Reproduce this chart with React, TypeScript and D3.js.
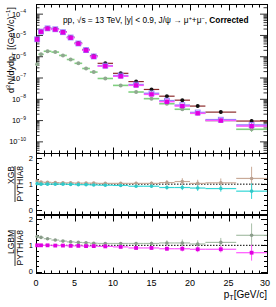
import React from "react";
import * as d3 from "d3";

const ptCenters = [0.15, 0.65, 1.5, 2.5, 3.5, 4.5, 5.5, 6.5, 7.5, 9, 11, 13, 15, 17, 19, 21, 24, 28];
const ptLow = [0, 0.3, 1, 2, 3, 4, 5, 6, 7, 8, 10, 12, 14, 16, 18, 20, 22, 26];
const ptHigh = [0.3, 1, 2, 3, 4, 5, 6, 7, 8, 10, 12, 14, 16, 18, 20, 22, 26, 30];

const pythiaYield = [6.8e-6, 1.55e-5, 2.2e-5, 2.0e-5, 1.5e-5, 8.3e-6, 4.4e-6, 2.2e-6, 1.1e-6, 4.9e-7, 1.66e-7, 6.8e-8, 2.9e-8, 1.4e-8, 9.1e-9, 4.8e-9, 2.5e-9, 9.5e-10];
const xgbYield = [6.6e-6, 1.52e-5, 2.15e-5, 1.95e-5, 1.42e-5, 8.0e-6, 4.2e-6, 2.05e-6, 1.03e-6, 3.8e-7, 1.3e-7, 4.9e-8, 1.9e-8, 8.6e-9, 5.3e-9, 2.4e-9, 1.1e-9, 6.2e-10];
const lgbmYield = [6.5e-6, 1.5e-5, 2.1e-5, 1.9e-5, 1.4e-5, 7.8e-6, 4.1e-6, 2.0e-6, 1.0e-6, 3.6e-7, 1.2e-7, 4.5e-8, 1.7e-8, 7.7e-9, 4.8e-9, 2.2e-9, 1.0e-9, 5.5e-10];
const greenYield = [4.4e-7, 1.3e-6, 1.8e-6, 1.65e-6, 1.15e-6, 7.4e-7, 4.9e-7, 2.8e-7, 1.9e-7, 9.5e-8, 4.5e-8, 2.2e-8, 1.07e-8, 6.2e-9, 3.4e-9, 2.2e-9, 1.0e-9, 3.9e-10];
const yieldRelErr = [0.04, 0.03, 0.03, 0.03, 0.03, 0.03, 0.04, 0.04, 0.05, 0.05, 0.07, 0.08, 0.1, 0.12, 0.14, 0.16, 0.18, 0.25];

const xgbRatioA = [1.12, 1.08, 1.07, 1.06, 1.05, 1.05, 1.04, 1.04, 1.04, 1.03, 1.03, 1.03, 1.03, 1.06, 1.1, 1.03, 1.05, 1.22];
const xgbRatioAErr = [0.04, 0.03, 0.03, 0.03, 0.03, 0.03, 0.03, 0.03, 0.04, 0.04, 0.05, 0.06, 0.07, 0.1, 0.13, 0.14, 0.17, 0.45];
const xgbRatioB = [1.02, 1.0, 1.0, 1.0, 1.0, 0.99, 0.98, 0.98, 0.97, 0.96, 0.95, 0.92, 0.92, 0.87, 0.87, 0.85, 0.83, 0.73];
const xgbRatioBErr = [0.03, 0.02, 0.02, 0.02, 0.02, 0.02, 0.02, 0.03, 0.03, 0.03, 0.04, 0.05, 0.06, 0.08, 0.1, 0.11, 0.12, 0.3];

const lgbmRatioA = [1.33, 1.3, 1.25, 1.2, 1.16, 1.13, 1.11, 1.1, 1.08, 1.07, 1.07, 1.07, 1.07, 1.09, 1.09, 1.05, 1.11, 1.38];
const lgbmRatioAErr = [0.04, 0.03, 0.03, 0.03, 0.03, 0.03, 0.03, 0.03, 0.04, 0.04, 0.05, 0.06, 0.07, 0.1, 0.13, 0.14, 0.17, 0.45];
const lgbmRatioB = [1.0, 1.0, 1.0, 0.99, 0.99, 0.98, 0.98, 0.97, 0.97, 0.96, 0.94, 0.9, 0.9, 0.87, 0.87, 0.85, 0.85, 0.72];
const lgbmRatioBErr = [0.03, 0.02, 0.02, 0.02, 0.02, 0.02, 0.02, 0.03, 0.03, 0.03, 0.04, 0.05, 0.06, 0.08, 0.1, 0.11, 0.12, 0.3];

const xTickLabels = ["0", "5", "10", "15", "20", "25", "30"];
const decadeExps = [-4, -5, -6, -7, -8, -9, -10];
const ratioTickLabels = ["0", "1", "2"];

const FONT = "'Liberation Sans', Arial, Helvetica, sans-serif";

const X0 = 36, X1 = 267;
const x = d3.scaleLinear().domain([0, 30]).range([X0, X1]);
const TOP = { y0: 4, y1: 153 };
const MID = { y0: 153, y1: 214 };
const BOT = { y0: 215, y1: 273 };
const yTop = d3.scaleLog().domain([3e-11, 3e-4]).range([TOP.y1, TOP.y0]);
const yMid = d3.scaleLinear().domain([-0.15, 2.2]).range([MID.y1, MID.y0]);
const yBot = d3.scaleLinear().domain([-0.05, 2.15]).range([BOT.y1, BOT.y0]);

function XTicks({ y, dir }: { y: number; dir: number }) {
  const ticks = d3.range(0, 31, 1);
  return (
    <g stroke="#000" strokeWidth={1}>
      {ticks.map((t) => {
        const len = t % 5 === 0 ? 6 : 3;
        const xx = Math.round(x(t)) + 0.5;
        return <line key={t} x1={xx} x2={xx} y1={y} y2={y + dir * len} />;
      })}
    </g>
  );
}

function Frame({ y0, y1 }: { y0: number; y1: number }) {
  return <rect x={X0 + 0.5} y={y0 + 0.5} width={X1 - X0} height={y1 - y0} fill="none" stroke="#000" strokeWidth={1} />;
}

function LinYTicks({ scale }: { scale: d3.ScaleLinear<number, number> }) {
  const [lo, hi] = scale.domain();
  const all = d3.range(-0.2, 2.21, 0.2).filter((t) => t >= lo && t <= hi);
  return (
    <g stroke="#000" strokeWidth={1}>
      {all.map((t, i) => {
        const major = Math.abs(t - Math.round(t)) < 1e-6;
        const len = major ? 6 : 3;
        const yy = Math.round(scale(t)) + 0.5;
        return (
          <g key={i}>
            <line x1={X0} x2={X0 + len} y1={yy} y2={yy} />
            <line x1={X1} x2={X1 - len} y1={yy} y2={yy} />
          </g>
        );
      })}
    </g>
  );
}

function LogYTicks() {
  const ticks: { v: number; major: boolean }[] = [];
  for (let e = -11; e <= -4; e++) {
    for (let m = 1; m <= 9; m++) {
      const v = m * Math.pow(10, e);
      if (v >= 3e-11 && v <= 3e-4) ticks.push({ v, major: m === 1 });
    }
  }
  return (
    <g stroke="#000" strokeWidth={0.8}>
      {ticks.map((t, i) => {
        const len = t.major ? 7 : 3.5;
        const yy = yTop(t.v);
        return (
          <g key={i}>
            <line x1={X0} x2={X0 + len} y1={yy} y2={yy} />
            <line x1={X1} x2={X1 - len} y1={yy} y2={yy} />
          </g>
        );
      })}
    </g>
  );
}

type S = {
  vals: number[];
  errs: number[];
  rel: boolean;
  bar: string;
  marker: string;
  shape: "circle" | "square" | "opensquare";
  size: number;
  barW: number;
};

function Series({ s, scale }: { s: S; scale: (v: number) => number }) {
  return (
    <g>
      {s.vals.map((v, i) => {
        const e = s.rel ? v * s.errs[i] : s.errs[i];
        const cx = x(ptCenters[i]);
        const cy = scale(v);
        return (
          <g key={i}>
            <line x1={x(ptLow[i])} x2={x(ptHigh[i])} y1={cy} y2={cy} stroke={s.bar} strokeWidth={s.barW} />
            <line x1={cx} x2={cx} y1={scale(v + e)} y2={scale(Math.max(v - e, s.rel ? v * 0.3 : -1))} stroke={s.bar} strokeWidth={1} />
            {s.shape === "circle" && <circle cx={cx} cy={cy} r={s.size} fill={s.marker} />}
            {s.shape === "square" && (
              <rect x={cx - s.size} y={cy - s.size} width={2 * s.size} height={2 * s.size} fill={s.marker} />
            )}
            {s.shape === "opensquare" && (
              <rect x={cx - s.size} y={cy - s.size} width={2 * s.size} height={2 * s.size} fill="none" stroke={s.marker} strokeWidth={1} />
            )}
          </g>
        );
      })}
    </g>
  );
}

const topSeries: S[] = [
  { vals: greenYield, errs: yieldRelErr, rel: true, bar: "#80d080", marker: "#8fa88f", shape: "circle", size: 2, barW: 1.6 },
  { vals: pythiaYield, errs: yieldRelErr, rel: true, bar: "#8b2a2a", marker: "#111", shape: "circle", size: 2, barW: 1.2 },
  { vals: xgbYield, errs: yieldRelErr, rel: true, bar: "#9a80ff", marker: "#9a80ff", shape: "opensquare", size: 2.4, barW: 1.6 },
  { vals: lgbmYield, errs: yieldRelErr, rel: true, bar: "#ff55ff", marker: "#e000e0", shape: "square", size: 2.2, barW: 1.4 },
];

const midSeries: S[] = [
  { vals: xgbRatioA, errs: xgbRatioAErr, rel: false, bar: "#c9aa98", marker: "#b8a090", shape: "circle", size: 1.8, barW: 1.2 },
  { vals: xgbRatioB, errs: xgbRatioBErr, rel: false, bar: "#33d6d6", marker: "#30c8c8", shape: "circle", size: 1.8, barW: 1.2 },
];
const botSeries: S[] = [
  { vals: lgbmRatioA, errs: lgbmRatioAErr, rel: false, bar: "#a8bfa8", marker: "#8a9c8a", shape: "circle", size: 1.8, barW: 1.2 },
  { vals: lgbmRatioB, errs: lgbmRatioBErr, rel: false, bar: "#ff55ff", marker: "#e000e0", shape: "square", size: 1.9, barW: 1.2 },
];

function RatioTitle({ num, cy }: { num: string; cy: number }) {
  const top = cy - 18;
  return (
    <g fontFamily={FONT} fontSize={8.5}>
      <text transform={`translate(13.5,${top}) rotate(-90)`} textAnchor="end">{num}</text>
      <line x1={15} x2={15} y1={top} y2={top + 36} stroke="#000" strokeWidth={0.8} />
      <text transform={`translate(22.5,${top}) rotate(-90)`} textAnchor="end">PYTHIA8</text>
    </g>
  );
}

export default function App() {
  return (
    <svg width={276} height={307} style={{ position: "absolute", left: 0, top: 0 }}>
      <rect width={276} height={307} fill="#fff" />
      {/* Top panel */}
      <Frame y0={TOP.y0} y1={TOP.y1} />
      <LogYTicks />
      <XTicks y={TOP.y0 + 0.5} dir={1} />
      <XTicks y={TOP.y1 + 0.5} dir={-1} />
      {topSeries.map((s, i) => (
        <Series key={i} s={s} scale={yTop} />
      ))}
      <g fontFamily={FONT} fontSize={7.5}>
        {decadeExps.map((e) => (
          <text key={e} x={26} y={yTop(Math.pow(10, e)) + 2.6} textAnchor="end">
            10
            <tspan fontSize={5} dy={-3.5}>{`\u2212${-e}`}</tspan>
          </text>
        ))}
      </g>
      <text fontFamily={FONT} fontSize={8.3} x={63} y={23}>
        pp, √s = 13 TeV, |y| &lt; 0.9, J/ψ → μ
        <tspan fontSize={5.5} dy={-3}>+</tspan>
        <tspan dy={3}>+μ</tspan>
        <tspan fontSize={5.5} dy={-3}>−</tspan>
        <tspan dy={3}>, </tspan>
        <tspan fontWeight="bold">Corrected</tspan>
      </text>
      <text fontFamily={FONT} fontSize={9} transform="translate(13.5,50) rotate(-90)" textAnchor="middle">
        d
        <tspan fontSize={6} dy={-3.5}>2</tspan>
        <tspan dy={3.5}>N/dydp</tspan>
        <tspan fontSize={6} dy={2}>T</tspan>
        <tspan dy={-2}> [(GeV/c)</tspan>
        <tspan fontSize={6} dy={-3.5}>−1</tspan>
        <tspan dy={3.5}>]</tspan>
      </text>

      {/* Middle panel */}
      <Frame y0={MID.y0} y1={MID.y1} />
      <LinYTicks scale={yMid} />
      <XTicks y={MID.y0 + 0.5} dir={1} />
      <XTicks y={MID.y1 + 0.5} dir={-1} />
      <line x1={x(0)} x2={x(30)} y1={yMid(1)} y2={yMid(1)} stroke="#000" strokeWidth={1} strokeDasharray="1.5,1.5" />
      {midSeries.map((s, i) => (
        <Series key={i} s={s} scale={yMid} />
      ))}
      <g fontFamily={FONT} fontSize={7.5} textAnchor="end">
        {ratioTickLabels.map((t) => (
          <text key={t} x={33} y={yMid(+t) + 2.7}>{t}</text>
        ))}
      </g>
      <RatioTitle num="XGB" cy={184} />

      {/* Bottom panel */}
      <Frame y0={BOT.y0} y1={BOT.y1} />
      <LinYTicks scale={yBot} />
      <XTicks y={BOT.y0 + 0.5} dir={1} />
      <XTicks y={BOT.y1 + 0.5} dir={-1} />
      <line x1={x(0)} x2={x(30)} y1={yBot(1)} y2={yBot(1)} stroke="#000" strokeWidth={1} strokeDasharray="1.5,1.5" />
      {botSeries.map((s, i) => (
        <Series key={i} s={s} scale={yBot} />
      ))}
      <g fontFamily={FONT} fontSize={7.5} textAnchor="end">
        {ratioTickLabels.map((t) => (
          <text key={t} x={33} y={yBot(+t) + 2.7}>{t}</text>
        ))}
      </g>
      <RatioTitle num="LGBM" cy={248} />

      {/* X axis labels */}
      <g fontFamily={FONT} fontSize={9} textAnchor="middle">
        {xTickLabels.map((t) => (
          <text key={t} x={x(+t) + (t === "30" ? -2 : 0)} y={286}>{t}</text>
        ))}
      </g>
      <text fontFamily={FONT} fontSize={10} x={267} y={298} textAnchor="end">
        p<tspan fontSize={7} dy={2}>T</tspan>
        <tspan dy={-2}>[GeV/c]</tspan>
      </text>
    </svg>
  );
}
